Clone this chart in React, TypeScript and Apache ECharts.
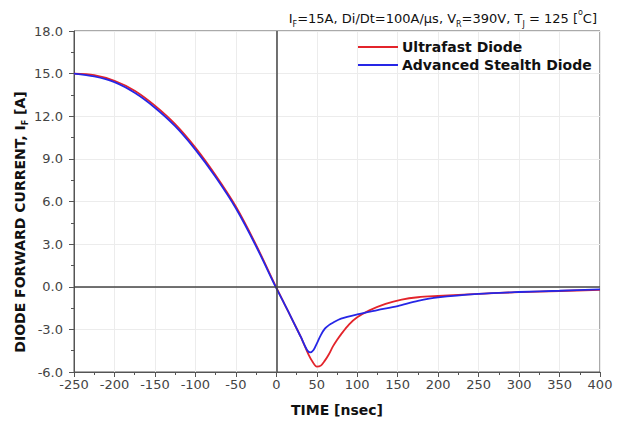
import React, { useEffect, useRef } from "react";
import * as echarts from "echarts";

const xTickMin = -250;
const xTickMax = 400;
const xTickStep = 50;
const yTickMin = -6;
const yTickMax = 18;
const yTickStep = 3;

const redTime = [-250, -225, -200, -175, -150, -125, -100, -75, -50, -25, 0, 10, 20, 30, 40, 45, 50, 55, 60, 65, 70, 75, 80, 90, 100, 115, 135, 155, 175, 200, 250, 300, 350, 400];
const redCurrent = [15.0, 14.9, 14.5, 13.8, 12.75, 11.45, 9.8, 7.85, 5.65, 2.95, -0.05, -1.2, -2.35, -3.5, -4.8, -5.3, -5.62, -5.55, -5.2, -4.75, -4.2, -3.75, -3.35, -2.65, -2.15, -1.66, -1.2, -0.9, -0.74, -0.65, -0.5, -0.38, -0.3, -0.22];

const blueTime = [-250, -225, -200, -175, -150, -125, -100, -75, -50, -25, 0, 10, 20, 30, 38, 42, 46, 50, 55, 60, 65, 70, 80, 100, 125, 150, 175, 200, 250, 300, 350, 400];
const blueCurrent = [15.0, 14.8, 14.4, 13.65, 12.6, 11.3, 9.65, 7.72, 5.52, 2.85, -0.1, -1.2, -2.35, -3.5, -4.45, -4.62, -4.45, -4.0, -3.4, -2.95, -2.7, -2.53, -2.25, -1.95, -1.65, -1.36, -1.0, -0.75, -0.5, -0.37, -0.28, -0.18];

const seriesNames = ["Ultrafast Diode", "Advanced Stealth Diode"];
const seriesColors = ["#e3242b", "#2626e6"];

const zip = (a: number[], b: number[]) => a.map((v, i) => [v, b[i]]);

export default function App() {
  const ref = useRef<HTMLDivElement>(null);
  useEffect(() => {
    if (!ref.current) return;
    const chart = echarts.init(ref.current, null, { renderer: "svg" });
    const font = "DejaVu Sans";
    chart.setOption({
      animation: false,
      backgroundColor: "#ffffff",
      title: {
        text: "{n|I}{s|F}{n|=15A, Di/Dt=100A/µs, V}{s|R}{n|=390V, T}{s|J}{n| = 125 [}{p|o}{n|C]}",
        right: 17,
        top: 3,
        textStyle: {
          fontWeight: "normal",
          rich: {
            n: { fontSize: 13, fontFamily: font, fontWeight: "normal", color: "#111", lineHeight: 20 },
            s: { fontSize: 8, fontFamily: font, fontWeight: "normal", color: "#111", lineHeight: 8, verticalAlign: "bottom" },
            p: { fontSize: 8, fontFamily: font, fontWeight: "normal", color: "#111", lineHeight: 8, verticalAlign: "top" },
          },
        },
      },
      legend: {
        data: seriesNames.map((n) => ({ name: n, icon: "rect" })),
        orient: "vertical",
        left: 353,
        top: 35,
        itemWidth: 40,
        itemHeight: 2,
        itemGap: 4,
        textStyle: { fontFamily: font, fontWeight: "bold", fontSize: 14, color: "#111", padding: [0, 0, 0, -1] },
      },
      graphic: [
        {
          type: "text",
          x: 20,
          y: 222,
          rotation: Math.PI / 2,
          style: {
            text: "{b|DIODE FORWARD CURRENT, I}{s|F}{b| [A]}",
            align: "center",
            verticalAlign: "middle",
            rich: {
              b: { fontFamily: font, fontWeight: "bold", fontSize: 14, fill: "#111", lineHeight: 18 },
              s: { fontFamily: font, fontWeight: "bold", fontSize: 8, fill: "#111", lineHeight: 8, verticalAlign: "bottom" },
            },
          },
        },
      ],
      grid: { left: 74, right: 19, top: 31, bottom: 52, show: true, borderColor: "#555", borderWidth: 1 },
      xAxis: {
        type: "value",
        min: xTickMin,
        max: xTickMax,
        interval: xTickStep,
        name: "TIME [nsec]",
        nameLocation: "middle",
        nameGap: 31,
        nameTextStyle: { fontFamily: font, fontWeight: "bold", fontSize: 14, color: "#111" },
        axisLine: { show: true, onZero: false, lineStyle: { color: "#555", width: 1 } },
        axisTick: { show: true, length: 5, lineStyle: { color: "#555" } },
        minorTick: { show: true, splitNumber: 2, length: 3, lineStyle: { color: "#555" } },
        axisLabel: { fontFamily: font, fontSize: 13, color: "#444", margin: 6 },
        splitLine: { show: true, lineStyle: { color: "#ececec", width: 1 } },
      },
      yAxis: {
        type: "value",
        min: yTickMin,
        max: yTickMax,
        interval: yTickStep,
        axisLine: { show: true, onZero: false, lineStyle: { color: "#555", width: 1 } },
        axisTick: { show: true, length: 5, lineStyle: { color: "#555" } },
        minorTick: { show: true, splitNumber: 2, length: 3, lineStyle: { color: "#555" } },
        axisLabel: { fontFamily: font, fontSize: 13, color: "#444", margin: 11, formatter: (v: number) => v.toFixed(1) },
        splitLine: { show: true, lineStyle: { color: "#ececec", width: 1 } },
      },
      series: [
        {
          name: seriesNames[0],
          type: "line",
          data: zip(redTime, redCurrent),
          symbol: "none",
          smooth: 0.3,
          lineStyle: { color: seriesColors[0], width: 1.8 },
          itemStyle: { color: seriesColors[0] },
          z: 3,
          markLine: {
            silent: true,
            symbol: "none",
            label: { show: false },
            lineStyle: { color: "#444", width: 1.5, type: "solid" },
            data: [{ xAxis: 0 }, { yAxis: 0 }],
          },
        },
        {
          name: seriesNames[1],
          type: "line",
          data: zip(blueTime, blueCurrent),
          symbol: "none",
          smooth: 0.3,
          lineStyle: { color: seriesColors[1], width: 1.8 },
          itemStyle: { color: seriesColors[1] },
          z: 4,
        },
      ],
    });
    return () => chart.dispose();
  }, []);
  return <div ref={ref} style={{ position: "fixed", left: 0, top: 0, width: 619, height: 424 }} />;
}
